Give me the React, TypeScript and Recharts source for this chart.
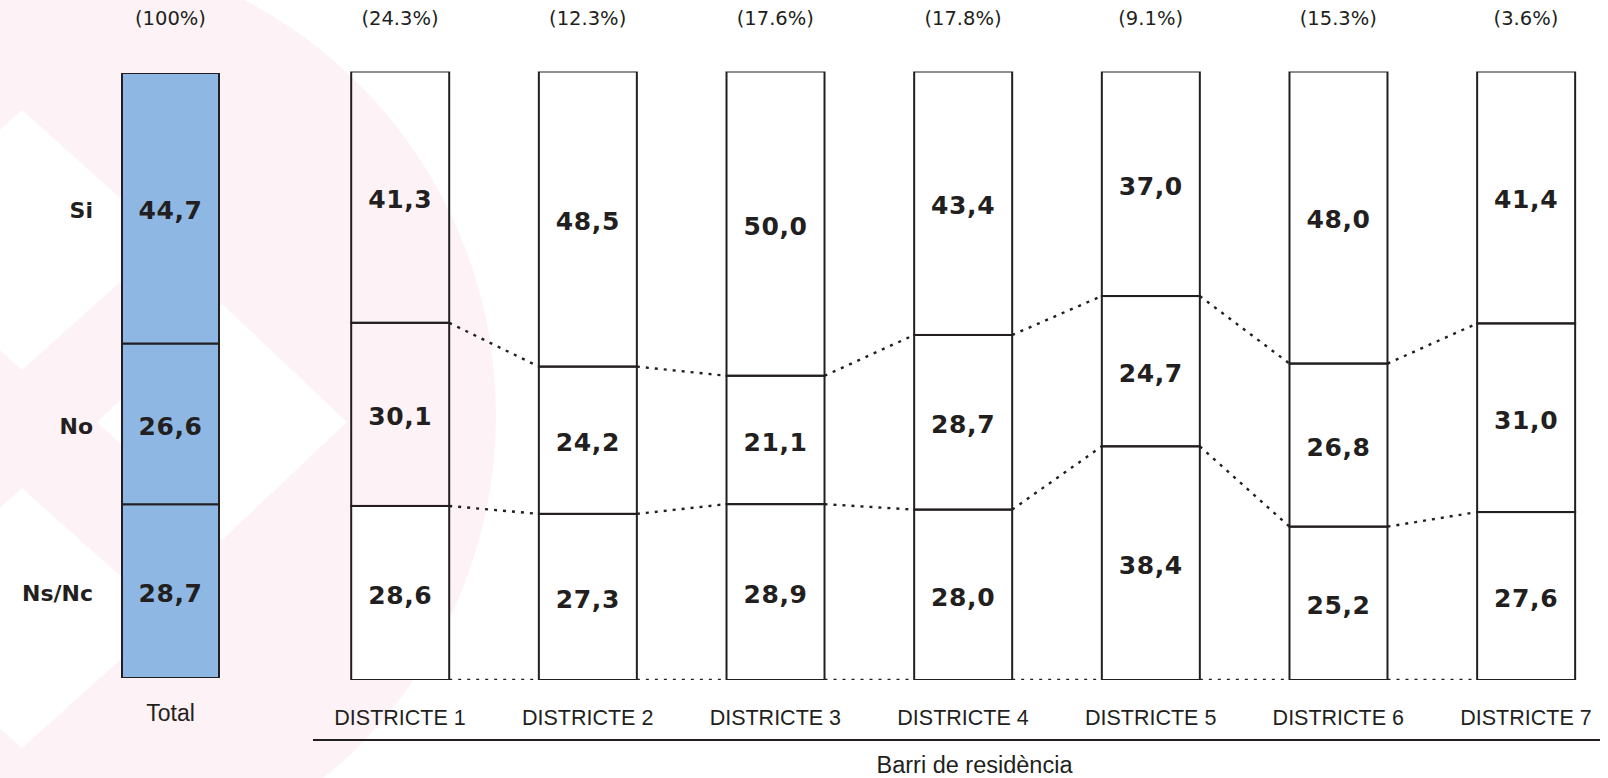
import { BarChart, Bar, XAxis, YAxis, LabelList } from 'recharts';

// district columns
const districts = ['DISTRICTE 1', 'DISTRICTE 2', 'DISTRICTE 3', 'DISTRICTE 4', 'DISTRICTE 5', 'DISTRICTE 6', 'DISTRICTE 7'];
const districtShare = [24.3, 12.3, 17.6, 17.8, 9.1, 15.3, 3.6];
const districtSi = [41.3, 48.5, 50.0, 43.4, 37.0, 48.0, 41.4];
const districtNo = [30.1, 24.2, 21.1, 28.7, 24.7, 26.8, 31.0];
const districtNs = [28.6, 27.3, 28.9, 28.0, 38.4, 25.2, 27.6];

// total column
const totalLabel = 'Total';
const totalShare = 100;
const totalSi = 44.7;
const totalNo = 26.6;
const totalNs = 28.7;

const answerNames = { si: 'Si', no: 'No', ns: 'Ns/Nc' };
const axisTitle = 'Barri de residència';

const districtData = districts.map((name, i) => ({
  name,
  share: districtShare[i],
  si: districtSi[i],
  no: districtNo[i],
  ns: districtNs[i],
}));
const totalData = [{ name: totalLabel, share: totalShare, si: totalSi, no: totalNo, ns: totalNs }];

const INK = '#231f20';
const fmtValue = (v: any) => Number(v).toFixed(1).replace('.', ',');
const fmtShare = (v: number) => `(${v}%)`;

const valueStyle = { fill: INK, fontSize: 25, fontWeight: 700, fontFamily: 'DejaVu Sans', letterSpacing: 0.6, dy: 2 };
const sideStyle = { fill: INK, fontSize: 22, fontWeight: 700, fontFamily: 'DejaVu Sans', dy: 2 };
const shareTick = { fill: INK, fontSize: 19.5, fontFamily: 'DejaVu Sans' };
const catTick = { fill: INK, fontSize: 21.5, fontFamily: 'Liberation Sans' };
const dotted = { stroke: INK, strokeWidth: 2.4, strokeDasharray: '3 6' };

// geometry of the previous bar of each series, filled while bars render in order
const edges: Record<string, Record<number, { right: number; top: number; bottom: number }>> = {
  ns: {},
  no: {},
};

const linkedShape = (key: 'ns' | 'no' | 'si', fill: string) => (props: any) => {
  const { x, y, width, height, index } = props;
  let links: any[] = [];
  if (key !== 'si') {
    const store = edges[key];
    const prev = store[index - 1];
    store[index] = { right: x + width, top: y, bottom: y + height };
    if (prev && index > 0) {
      links.push(<line key="t" x1={prev.right} y1={prev.top} x2={x} y2={y} {...dotted} />);
      if (key === 'ns') {
        links.push(<line key="b" x1={prev.right} y1={prev.bottom} x2={x} y2={y + height} {...dotted} />);
      }
    }
  }
  return (
    <g>
      {links}
      <rect x={x} y={y} width={width} height={height} fill={fill} stroke={INK} strokeWidth={2} />
    </g>
  );
};

const Watermark = () => (
  <svg width={1608} height={778} style={{ position: 'absolute', left: 0, top: 0 }}>
    <circle cx={28} cy={415} r={468} fill="#fdf2f5" />
    <polygon points="22,110 167,240 22,370 -123,240" fill="#fff" />
    <polygon points="22,488 167,618 22,748 -123,618" fill="#fff" />
    <polygon points="222,304 347,422 222,540 97,422" fill="#fff" />
  </svg>
);

const App = () => {
  return (
    <div style={{ position: 'absolute', left: 0, top: 0, width: 1608, height: 778, overflow: 'hidden', background: '#fff' }}>
      <Watermark />
      <BarChart
        width={300}
        height={778}
        data={totalData}
        margin={{ top: 23, right: 81, bottom: 0, left: 122 }}
        barCategoryGap={0}
        style={{ position: 'absolute', left: 0, top: 0 }}
      >
        <XAxis
          xAxisId="share"
          orientation="top"
          dataKey="name"
          height={50}
          axisLine={false}
          tickLine={false}
          tickSize={0}
          tickMargin={48}
          tick={shareTick}
          tickFormatter={(_v: any, i: number) => fmtShare(totalData[i].share)}
        />
        <XAxis dataKey="name" height={100} axisLine={false} tickLine={false} tickSize={0} tickMargin={27} tick={{ ...catTick, fontSize: 23 }} />
        <YAxis hide domain={[0, 100]} allowDataOverflow />
        <Bar dataKey="ns" stackId="t" fill="#8eb8e3" stroke={INK} strokeWidth={2} isAnimationActive={false}>
          <LabelList dataKey="ns" position="center" formatter={fmtValue} {...valueStyle} />
          <LabelList dataKey="ns" position="left" offset={29} formatter={() => answerNames.ns} {...sideStyle} />
        </Bar>
        <Bar dataKey="no" stackId="t" fill="#8eb8e3" stroke={INK} strokeWidth={2} isAnimationActive={false}>
          <LabelList dataKey="no" position="center" formatter={fmtValue} {...valueStyle} />
          <LabelList dataKey="no" position="left" offset={29} formatter={() => answerNames.no} {...sideStyle} />
        </Bar>
        <Bar dataKey="si" stackId="t" fill="#8eb8e3" stroke={INK} strokeWidth={2} isAnimationActive={false}>
          <LabelList dataKey="si" position="center" formatter={fmtValue} {...valueStyle} />
          <LabelList dataKey="si" position="left" offset={29} formatter={() => answerNames.si} {...sideStyle} />
        </Bar>
      </BarChart>

      <BarChart
        width={1608}
        height={778}
        data={districtData}
        margin={{ top: 21.5, right: 8, bottom: 0, left: 313 }}
        barSize={98}
        style={{ position: 'absolute', left: 0, top: 0 }}
      >
        <XAxis
          xAxisId="share"
          orientation="top"
          dataKey="name"
          height={50}
          padding={{ left: -6.8, right: -19.8 }}
          axisLine={false}
          tickLine={false}
          tickSize={0}
          tickMargin={46.5}
          tick={shareTick}
          tickFormatter={(_v: any, i: number) => fmtShare(districtShare[i])}
        />
        <XAxis
          dataKey="name"
          height={60}
          padding={{ left: -6.8, right: -19.8 }}
          axisLine={false}
          tickLine={false}
          tickSize={0}
          tickMargin={30}
          tick={catTick}
        />
        <XAxis
          xAxisId="rule"
          dataKey="name"
          height={38}
          tick={false}
          tickLine={false}
          axisLine={{ stroke: INK, strokeWidth: 1.8 }}
          label={{ value: axisTitle, position: 'insideBottom', offset: 5, dx: 18, ...catTick, fontSize: 23.5 }}
        />
        <YAxis hide domain={[0, 100]} allowDataOverflow />
        <Bar dataKey="ns" stackId="d" isAnimationActive={false} shape={linkedShape('ns', '#fff')}>
          <LabelList dataKey="ns" position="center" formatter={fmtValue} {...valueStyle} />
        </Bar>
        <Bar dataKey="no" stackId="d" isAnimationActive={false} shape={linkedShape('no', 'none')}>
          <LabelList dataKey="no" position="center" formatter={fmtValue} {...valueStyle} />
        </Bar>
        <Bar dataKey="si" stackId="d" isAnimationActive={false} shape={linkedShape('si', 'none')}>
          <LabelList dataKey="si" position="center" formatter={fmtValue} {...valueStyle} />
        </Bar>
      </BarChart>
    </div>
  );
};

export default App;
